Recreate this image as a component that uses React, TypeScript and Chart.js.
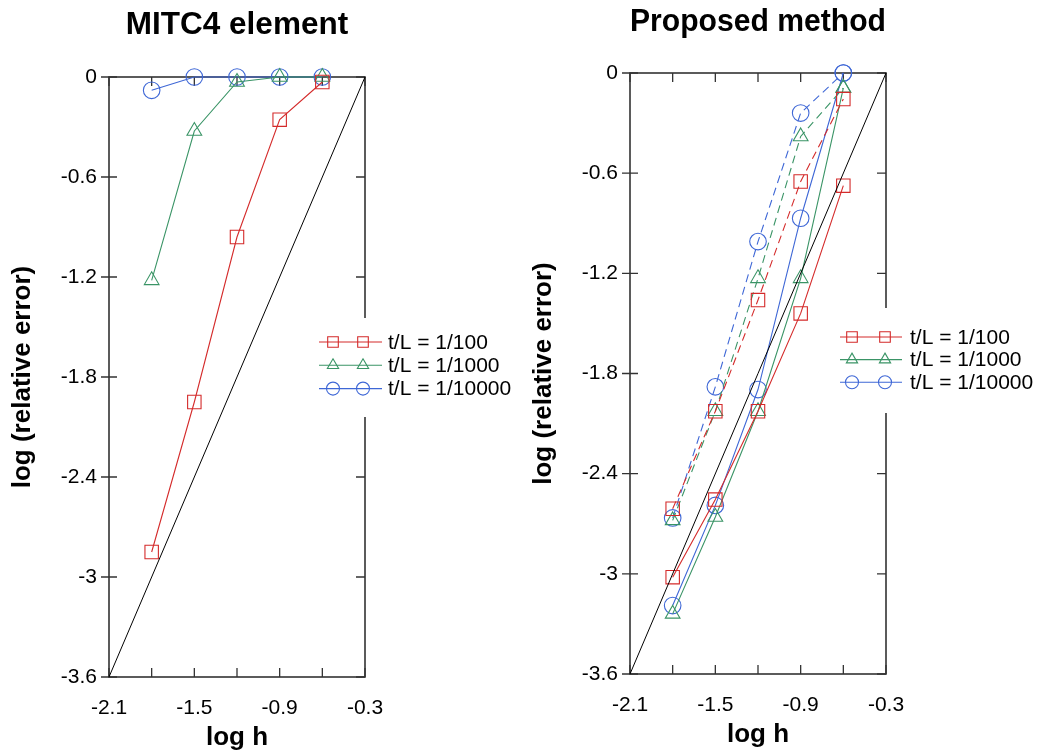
import React, { useEffect, useRef } from 'react';
import { Chart, registerables } from 'chart.js';

Chart.register(...registerables);

// ---------- data ----------
const LOG_H = [-1.8, -1.5, -1.2, -0.9, -0.6];
const X_TICKS = [-2.1, -1.8, -1.5, -1.2, -0.9, -0.6, -0.3];
const X_LABELED = [-2.1, -1.5, -0.9, -0.3];
const Y_TICKS = [0, -0.6, -1.2, -1.8, -2.4, -3, -3.6];
const REF_X = [-2.1, -0.3];
const REF_Y = [-3.6, 0];
const SERIES_LABELS = ['t/L = 1/100', 't/L = 1/1000', 't/L = 1/10000'];

const MITC4_T100 = [-2.85, -1.95, -0.96, -0.256, -0.03];
const MITC4_T1000 = [-1.22, -0.324, -0.03, 0, 0];
const MITC4_T10000 = [-0.08, 0, 0, 0, 0];

const PROP_T100_SOLID = [-3.02, -2.555, -2.026, -1.44, -0.675];
const PROP_T1000_SOLID = [-3.24, -2.66, -2.026, -1.23, -0.09];
const PROP_T10000_SOLID = [-3.19, -2.59, -1.896, -0.87, 0];
const PROP_T100_DASHED = [-2.61, -2.026, -1.36, -0.65, -0.156];
const PROP_T1000_DASHED = [-2.68, -2.026, -1.23, -0.38, -0.09];
const PROP_T10000_DASHED = [-2.665, -1.88, -1.01, -0.24, 0];

// ---------- styles ----------
const FONT = "'Liberation Sans', Arial, Helvetica, sans-serif";
const COLORS = ['#d42a2a', '#3a9466', '#3e67d6'];
const STYLES = ['rect', 'triangle', 'circle'];
const RADII = [9.5, 8.5, 8.3];
const LEGEND_RADII = [7.5, 6.5, 6.5];

function series(values: number[], i: number, dashed: boolean) {
  return {
    label: SERIES_LABELS[i],
    data: LOG_H.map((x, k) => ({ x, y: values[k] })),
    borderColor: COLORS[i],
    borderWidth: 1.1,
    borderDash: dashed ? [8, 5] : [],
    pointStyle: STYLES[i],
    pointRadius: RADII[i],
    pointHoverRadius: RADII[i],
    pointBorderColor: COLORS[i],
    pointBackgroundColor: 'rgba(0,0,0,0)',
    pointBorderWidth: 1.1,
    fill: false,
    tension: 0,
    clip: false,
  };
}

function refLine() {
  return {
    label: 'ref',
    data: REF_X.map((x, k) => ({ x, y: REF_Y[k] })),
    borderColor: '#000',
    borderWidth: 1,
    pointRadius: 0,
    fill: false,
    clip: false,
  };
}

function drawMarker(ctx: CanvasRenderingContext2D, style: string, x: number, y: number, r: number) {
  ctx.beginPath();
  if (style === 'rect') {
    const s = r * Math.SQRT1_2;
    ctx.rect(x - s, y - s, 2 * s, 2 * s);
  } else if (style === 'triangle') {
    ctx.moveTo(x, y - r);
    ctx.lineTo(x + r * 0.866, y + r * 0.5);
    ctx.lineTo(x - r * 0.866, y + r * 0.5);
    ctx.closePath();
  } else {
    ctx.arc(x, y, r, 0, Math.PI * 2);
  }
  ctx.stroke();
}

const framePlugin = {
  id: 'frame',
  beforeDatasetsDraw(chart: any) {
    const { ctx, chartArea: a, scales } = chart;
    ctx.save();
    ctx.strokeStyle = '#333';
    ctx.lineWidth = 1.6;
    ctx.strokeRect(a.left, a.top, a.right - a.left, a.bottom - a.top);
    ctx.lineWidth = 1.3;
    ctx.beginPath();
    for (const v of X_TICKS) {
      const x = scales.x.getPixelForValue(v);
      ctx.moveTo(x, a.bottom);
      ctx.lineTo(x, a.bottom - 9);
      ctx.moveTo(x, a.top);
      ctx.lineTo(x, a.top + 9);
    }
    for (const v of Y_TICKS) {
      const y = scales.y.getPixelForValue(v);
      ctx.moveTo(a.left - 8, y);
      ctx.lineTo(a.left + 8, y);
      ctx.moveTo(a.right, y);
      ctx.lineTo(a.right - 9, y);
    }
    ctx.stroke();
    ctx.restore();
  },
};

const legendPlugin = {
  id: 'customLegend',
  afterDraw(chart: any, _args: any, o: any) {
    const { ctx } = chart;
    ctx.save();
    ctx.fillStyle = '#fff';
    ctx.fillRect(o.box[0], o.box[1], o.box[2], o.box[3]);
    ctx.font = `${o.fontSize}px ${FONT}`;
    ctx.textBaseline = 'middle';
    ctx.textAlign = 'left';
    SERIES_LABELS.forEach((label, i) => {
      const y = o.y + i * o.rowH;
      ctx.strokeStyle = COLORS[i];
      ctx.lineWidth = 1.1;
      ctx.setLineDash([]);
      ctx.beginPath();
      ctx.moveTo(o.x, y);
      ctx.lineTo(o.x + o.lineLen, y);
      ctx.stroke();
      for (const dx of o.markers) drawMarker(ctx, STYLES[i], o.x + dx, y, LEGEND_RADII[i]);
      ctx.fillStyle = '#000';
      ctx.fillText(label, o.textX, y + 1);
    });
    ctx.restore();
  },
};

function makeConfig(datasets: any[], title: string, p: any) {
  return {
    type: 'line',
    data: { datasets },
    plugins: [framePlugin, legendPlugin],
    options: {
      responsive: false,
      animation: false,
      events: [],
      layout: { padding: { left: 0, right: p.padRight, top: 0, bottom: 0 } },
      scales: {
        x: {
          type: 'linear',
          min: -2.1,
          max: -0.3,
          afterBuildTicks: (s: any) => {
            s.ticks = X_TICKS.map((v) => ({ value: v }));
          },
          afterFit: (s: any) => {
            s.height = 74 + p.xExtra;
          },
          grid: { display: false, drawTicks: false },
          border: { display: false },
          ticks: {
            autoSkip: false,
            maxRotation: 0,
            padding: 19,
            color: '#000',
            font: { family: FONT, size: 21 },
            callback: (v: number) => {
              const r = Math.round(v * 10) / 10;
              return X_LABELED.some((l) => Math.abs(l - r) < 1e-6) ? r.toFixed(1) : '';
            },
          },
          title: {
            display: true,
            text: 'log h',
            color: '#000',
            font: { family: FONT, size: 26, weight: 'bold' },
            padding: { top: 0, bottom: p.xTitlePad },
          },
        },
        y: {
          type: 'linear',
          min: -3.6,
          max: 0,
          afterBuildTicks: (s: any) => {
            s.ticks = Y_TICKS.map((v) => ({ value: v }));
          },
          afterFit: (s: any) => {
            s.width = p.yWidth;
          },
          grid: { display: false, drawTicks: false },
          border: { display: false },
          ticks: {
            autoSkip: false,
            padding: 12,
            color: '#000',
            font: { family: FONT, size: 21 },
            callback: (v: number) => String(Math.round(v * 10) / 10),
          },
          title: {
            display: true,
            text: 'log (relative error)',
            color: '#000',
            font: { family: FONT, size: 26, weight: 'bold' },
            padding: { top: p.yTitlePad, bottom: 0 },
          },
        },
      },
      plugins: {
        legend: { display: false },
        tooltip: { enabled: false },
        title: {
          display: true,
          text: title,
          fullSize: false,
          color: '#000',
          font: { family: FONT, size: 31.5, weight: 'bold' },
          padding: { top: p.titleTop, bottom: p.titleBottom },
        },
        customLegend: p.legend,
      },
    },
  };
}

export default function App() {
  const leftRef = useRef<HTMLCanvasElement>(null);
  const rightRef = useRef<HTMLCanvasElement>(null);

  useEffect(() => {
    const left = new Chart(
      leftRef.current as HTMLCanvasElement,
      makeConfig(
        [
          refLine(),
          series(MITC4_T100, 0, false),
          series(MITC4_T1000, 1, false),
          series(MITC4_T10000, 2, false),
        ],
        'MITC4 element',
        {
          padRight: 154,
          yWidth: 109,
          yTitlePad: 6.8,
          xExtra: 0,
          xTitlePad: -2,
          titleTop: 6,
          titleBottom: 33.2,
          legend: {
            box: [313, 318, 206, 99],
            x: 319,
            y: 342,
            rowH: 23.3,
            lineLen: 63,
            markers: [14, 44],
            textX: 388,
            fontSize: 21,
          },
        }
      ) as any
    );
    const right = new Chart(
      rightRef.current as HTMLCanvasElement,
      makeConfig(
        [
          refLine(),
          series(PROP_T100_DASHED, 0, true),
          series(PROP_T1000_DASHED, 1, true),
          series(PROP_T10000_DASHED, 2, true),
          series(PROP_T100_SOLID, 0, false),
          series(PROP_T1000_SOLID, 1, false),
          series(PROP_T10000_SOLID, 2, false),
        ],
        'Proposed method',
        {
          padRight: 152,
          yWidth: 111,
          yTitlePad: 9.4,
          xExtra: 3,
          xTitlePad: 0.4,
          titleTop: 3,
          titleBottom: 32.2,
          legend: {
            box: [316, 308, 203, 105],
            x: 321,
            y: 337,
            rowH: 22.6,
            lineLen: 62,
            markers: [12, 45],
            textX: 391,
            fontSize: 21,
          },
        }
      ) as any
    );
    return () => {
      left.destroy();
      right.destroy();
    };
  }, []);

  return (
    <div
      style={{
        position: 'fixed',
        left: 0,
        top: 0,
        width: 1038,
        height: 751,
        background: '#fff',
        overflow: 'hidden',
      }}
    >
      <canvas ref={leftRef} width={519} height={751} style={{ position: 'absolute', left: 0, top: 0 }} />
      <canvas ref={rightRef} width={519} height={751} style={{ position: 'absolute', left: 519, top: 0 }} />
    </div>
  );
}
